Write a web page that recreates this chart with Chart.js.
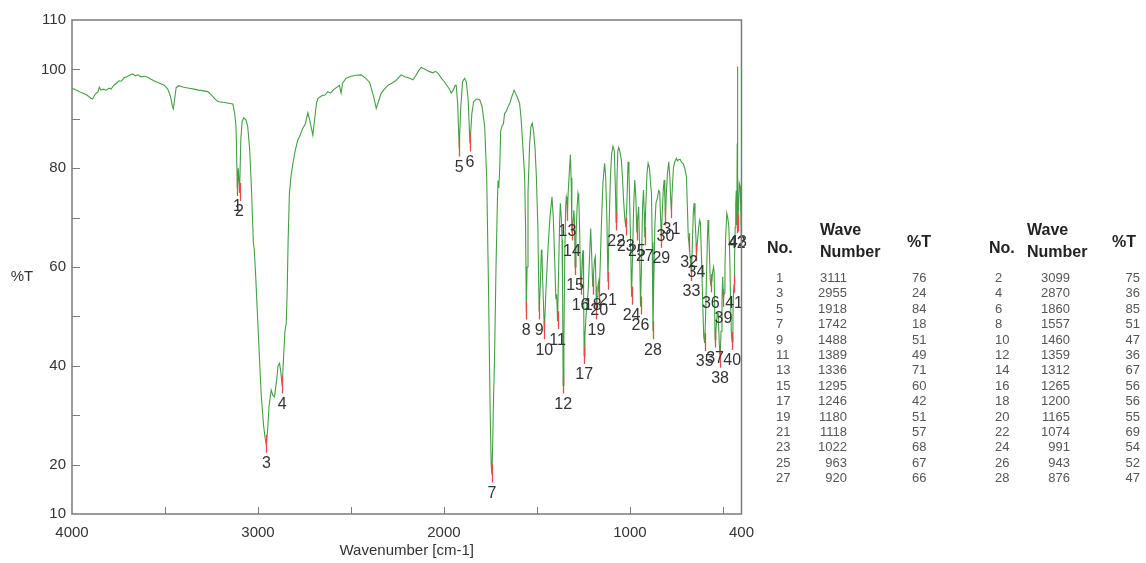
<!DOCTYPE html>
<html>
<head>
<meta charset="utf-8">
<script src="https://cdn.jsdelivr.net/npm/chart.js@4.4.1/dist/chart.umd.min.js"></script>
<style>
  html, body { margin: 0; padding: 0; background: #fff; }
  body { width: 1146px; height: 563px; position: relative; overflow: hidden; font-family: 'Liberation Sans', Arial, sans-serif; }
  #chartWrap { position: absolute; left: 0; top: 0; width: 764px; height: 563px; }
  #peakTable { position: absolute; left: 0; top: 0; width: 1146px; height: 563px; pointer-events: none; }
  .cell { position: absolute; white-space: nowrap; line-height: 1; }
  .hdr { font-weight: bold; font-size: 16px; color: #222; }
  .row { font-size: 13px; color: #555; }
</style>
</head>
<body>
<div id="chartWrap"><canvas id="irChart" width="764" height="563"></canvas></div>
<div id="peakTable"></div>
<script>
// spectrum (wavenumber cm-1 / %T)
const specW = [
  4000, 3975, 3950, 3920, 3900, 3889, 3875, 3860, 3853, 3845, 3830, 3815, 3800, 3790, 3775, 3760,
  3747, 3735, 3720, 3705, 3690, 3673, 3660, 3645, 3630, 3610, 3593, 3575, 3555, 3535, 3505, 3485,
  3470, 3460, 3455, 3448, 3440, 3425, 3400, 3370, 3342, 3320, 3300, 3270, 3250, 3230, 3216, 3180,
  3150, 3135, 3125, 3118, 3111, 3106, 3099, 3092, 3085, 3076, 3065, 3055, 3045, 3035, 3025, 3020,
  3012, 3000, 2990, 2983, 2970, 2962, 2955, 2948, 2940, 2929, 2920, 2911, 2900, 2892, 2884, 2878,
  2870, 2862, 2855, 2848, 2843, 2838, 2831, 2822, 2812, 2800, 2786, 2775, 2760, 2745, 2732, 2720,
  2705, 2695, 2685, 2678, 2660, 2640, 2624, 2610, 2590, 2575, 2562, 2553, 2545, 2526, 2500, 2470,
  2445, 2420, 2400, 2391, 2378, 2364, 2352, 2337, 2320, 2300, 2280, 2260, 2240, 2230, 2210, 2190,
  2167, 2150, 2135, 2122, 2100, 2080, 2060, 2045, 2032, 2015, 2000, 1985, 1970, 1961, 1950, 1940,
  1934, 1926, 1918, 1910, 1900, 1889, 1880, 1870, 1860, 1850, 1840, 1825, 1808, 1795, 1781, 1770,
  1760, 1752, 1746, 1742, 1738, 1733, 1728, 1720, 1712, 1709, 1705, 1700, 1695, 1688, 1680, 1674,
  1665, 1655, 1645, 1635, 1623, 1615, 1605, 1593, 1585, 1575, 1566, 1561, 1557, 1553, 1548, 1539,
  1532, 1525, 1518, 1510, 1503, 1495, 1488, 1482, 1476, 1473, 1468, 1460, 1452, 1440, 1430, 1419,
  1412, 1405, 1398, 1394, 1389, 1383, 1378, 1374, 1369, 1365, 1362, 1359, 1355, 1350, 1345, 1342,
  1339, 1336, 1332, 1326, 1320, 1316, 1312, 1306, 1301, 1297, 1295, 1290, 1284, 1279, 1275, 1270,
  1265, 1260, 1256, 1252, 1249, 1246, 1242, 1236, 1230, 1225, 1218, 1211, 1206, 1200, 1195, 1190,
  1186, 1182, 1180, 1176, 1172, 1168, 1165, 1160, 1152, 1145, 1136, 1130, 1124, 1118, 1112, 1105,
  1098, 1091, 1084, 1078, 1074, 1070, 1065, 1060, 1053, 1046, 1040, 1033, 1028, 1022, 1016, 1010,
  1005, 998, 991, 986, 980, 974, 968, 963, 958, 953, 948, 943, 938, 932, 927, 923,
  920, 915, 908, 902, 895, 889, 884, 880, 876, 872, 866, 860, 852, 845, 840, 835,
  831, 826, 820, 816, 812, 809, 804, 798, 791, 785, 781, 777, 772, 766, 759, 750,
  745, 738, 730, 722, 714, 705, 700, 696, 690, 686, 682, 676, 672, 669, 664, 659,
  655, 650, 645, 642, 637, 630, 625, 621, 615, 608, 603, 598, 593, 587, 583, 580,
  576, 571, 568, 565, 560, 555, 550, 547, 542, 538, 534, 530, 525, 520, 515, 510,
  505, 501, 497, 493, 489, 485, 479, 474, 468, 463, 458, 454, 450, 446, 443, 440,
  437, 434, 431, 428, 425, 423, 422, 421, 419, 416, 412, 407, 403, 400
];
const specT = [
  96.2, 95.8, 95.3, 94.8, 94.2, 94.0, 95.0, 95.5, 96.4, 95.8, 96.0, 95.8, 96.2, 96.0, 96.8, 97.2,
  97.7, 97.6, 98.3, 98.5, 98.8, 99.1, 98.7, 98.9, 98.5, 98.6, 98.4, 98.0, 97.6, 97.3, 96.8, 96.0,
  94.5, 92.5, 92.0, 94.0, 96.3, 96.7, 96.4, 96.2, 96.0, 95.8, 95.7, 95.5, 94.8, 94.0, 93.5, 93.3,
  93.1, 93.0, 91.0, 88.4, 76.0, 80.0, 75.0, 86.0, 89.5, 90.2, 89.8, 88.4, 84.0, 76.0, 65.0, 63.5,
  58.0, 48.0, 40.0, 34.4, 28.0, 25.5, 24.0, 27.0, 32.0, 35.1, 34.0, 33.7, 37.0, 40.0, 40.5, 39.0,
  36.0, 42.0, 47.0, 48.6, 55.0, 65.0, 74.9, 78.5, 81.0, 83.5, 85.7, 86.5, 88.0, 89.0, 91.2, 89.5,
  86.7, 90.0, 93.2, 94.1, 94.6, 94.8, 95.5, 95.2, 96.0, 96.4, 96.8, 95.2, 97.2, 98.2, 98.6, 98.8,
  98.9, 98.2, 97.4, 96.2, 94.5, 92.1, 93.5, 95.2, 96.0, 96.8, 97.2, 97.7, 98.5, 98.9, 98.5, 98.3,
  97.9, 98.8, 99.8, 100.4, 100.0, 99.6, 99.3, 99.6, 99.2, 98.3, 97.6, 96.8, 96.0, 95.2, 95.8, 96.8,
  96.8, 93.0, 84.0, 92.0, 97.5, 98.2, 97.5, 94.0, 85.0, 91.0, 93.5, 94.0, 93.9, 92.5, 88.4, 78.0,
  55.0, 32.0, 20.0, 18.0, 24.0, 34.0, 41.2, 60.0, 74.0, 77.5, 76.0, 80.0, 87.4, 88.5, 89.0, 91.1,
  91.5, 92.5, 93.2, 94.5, 95.8, 95.2, 94.3, 93.1, 90.0, 84.0, 78.3, 68.0, 51.0, 60.0, 75.0, 85.0,
  88.5, 89.1, 87.5, 84.0, 78.3, 68.0, 51.0, 56.0, 63.5, 62.8, 56.0, 47.0, 55.0, 64.0, 70.0, 74.2,
  70.0, 62.0, 53.5, 54.5, 49.0, 60.0, 69.0, 72.9, 70.0, 65.5, 55.0, 36.0, 45.0, 63.0, 72.5, 74.2,
  73.5, 71.0, 75.0, 79.0, 82.7, 78.0, 67.0, 69.0, 71.5, 68.0, 60.0, 66.0, 72.0, 74.9, 74.0, 67.0,
  56.0, 58.0, 62.0, 63.4, 55.0, 42.0, 46.0, 50.0, 53.0, 54.7, 61.0, 67.8, 63.0, 56.0, 59.0, 61.5,
  62.1, 56.0, 51.0, 54.0, 56.0, 57.0, 55.0, 60.0, 70.0, 77.0, 81.0, 78.0, 70.0, 57.0, 68.0, 78.0,
  83.0, 84.4, 83.5, 76.0, 69.0, 77.0, 83.5, 84.2, 83.2, 81.7, 78.0, 72.9, 70.0, 68.0, 73.0, 81.3,
  79.0, 68.0, 54.0, 62.0, 72.0, 77.6, 74.0, 67.0, 70.0, 72.2, 64.0, 52.0, 60.0, 72.0, 75.6, 71.0,
  66.0, 72.0, 79.0, 81.0, 80.0, 77.0, 74.9, 65.0, 47.0, 56.0, 68.0, 72.9, 74.0, 75.5, 75.2, 70.0,
  65.5, 71.0, 76.0, 77.6, 74.0, 70.0, 75.0, 79.0, 81.3, 78.0, 74.0, 71.5, 76.0, 80.0, 81.3, 82.0,
  81.5, 81.7, 81.8, 81.2, 81.0, 80.0, 79.0, 78.3, 71.0, 66.0, 64.8, 62.0, 60.0, 58.8, 65.0, 71.0,
  72.9, 70.0, 66.0, 62.8, 65.0, 68.0, 69.5, 69.0, 62.0, 52.0, 46.0, 44.6, 50.0, 60.0, 66.0, 69.5,
  67.0, 61.0, 57.5, 56.5, 57.0, 59.0, 60.0, 59.0, 45.3, 47.0, 49.0, 50.6, 50.6, 45.0, 41.2, 47.0,
  53.0, 58.0, 53.5, 54.7, 60.0, 66.0, 70.9, 70.0, 68.2, 62.0, 52.0, 46.0, 44.8, 50.0, 55.0, 56.4,
  62.0, 68.0, 72.9, 75.5, 68.5, 85.0, 100.6, 88.0, 68.8, 72.0, 77.0, 76.3, 70.0, 64.0
];

// picked peaks (1-28 from the table, 29-43)
const peakNo = [
  1, 2, 3, 4, 5, 6, 7, 8, 9, 10, 11, 12, 13, 14, 15, 16, 17, 18, 19, 20, 21, 22,
  23, 24, 25, 26, 27, 28, 29, 30, 31, 32, 33, 34, 35, 36, 37, 38, 39, 40, 41, 42, 43
];
const peakWave = [
  3111, 3099, 2955, 2870, 1918, 1860, 1742, 1557, 1488, 1460, 1389, 1359, 1336, 1312, 1295, 1265,
  1246, 1200, 1180, 1165, 1118, 1074, 1022, 991, 963, 943, 920, 876,
  831, 809, 777, 682, 669, 642, 598, 565, 542, 515, 497, 450, 440, 425, 419
];
const peakT = [
  76, 75, 24, 36, 84, 85, 18, 51, 51, 47, 49, 36, 71, 67, 60, 56,
  42, 56, 51, 55, 57, 69, 68, 54, 67, 52, 66, 47,
  65.5, 70, 71.5, 64.8, 58.8, 62.8, 44.6, 56.5, 45.3, 41.2, 53.5, 44.8, 56.4, 68.5, 68.8
];
const tableCount = 28;

const xTicks = [4000, 3500, 3000, 2500, 2000, 1500, 1000, 500, 400];
const xTickLabels = [4000, 3000, 2000, 1000, 400];
const yTicks = [10, 20, 30, 40, 50, 60, 70, 80, 90, 100, 110];
const yTickLabels = [10, 20, 40, 60, 80, 100, 110];

const FONT = "'Liberation Sans', Arial, sans-serif";

const frameAndPeaks = {
  id: 'frameAndPeaks',
  afterDatasetsDraw(chart) {
    const { ctx, scales: { x, y } } = chart;
    ctx.save();
    // peak markers
    ctx.strokeStyle = '#e84a4a';
    ctx.lineWidth = 1.3;
    ctx.beginPath();
    peakWave.forEach((w, i) => {
      const px = Math.round(x.getPixelForValue(w)) + 0.5;
      const py = y.getPixelForValue(peakT[i]);
      ctx.moveTo(px, py - 10);
      ctx.lineTo(px, py + 8);
    });
    ctx.stroke();
    ctx.fillStyle = '#333';
    ctx.font = '16px ' + FONT;
    ctx.textAlign = 'center';
    ctx.textBaseline = 'middle';
    peakWave.forEach((w, i) => {
      ctx.fillText(String(peakNo[i]), x.getPixelForValue(w), y.getPixelForValue(peakT[i]) + 19);
    });
    ctx.restore();
  },
  afterDraw(chart) {
    const { ctx, chartArea: a, scales: { x, y } } = chart;
    ctx.save();
    ctx.strokeStyle = '#7a7a7a';
    ctx.lineWidth = 1.5;
    ctx.strokeRect(a.left, a.top, a.right - a.left, a.bottom - a.top);
    ctx.lineWidth = 1;
    ctx.beginPath();
    xTicks.forEach((v) => {
      if (v === 4000 || v === 400) return;
      const px = Math.round(x.getPixelForValue(v)) + 0.5;
      ctx.moveTo(px, a.bottom);
      ctx.lineTo(px, a.bottom - 7);
    });
    yTicks.forEach((v) => {
      if (v === 10 || v === 110) return;
      const py = Math.round(y.getPixelForValue(v)) + 0.5;
      ctx.moveTo(a.left, py);
      ctx.lineTo(a.left + 8, py);
    });
    ctx.stroke();
    ctx.fillStyle = '#333';
    ctx.font = '15px ' + FONT;
    ctx.textAlign = 'center';
    ctx.textBaseline = 'middle';
    ctx.fillText('%T', 22, 277);
    ctx.restore();
  }
};

function initChart() {
  const canvas = document.getElementById('irChart');
  new Chart(canvas.getContext('2d'), {
    type: 'line',
    data: {
      datasets: [{
        data: specW.map((w, i) => ({ x: w, y: specT[i] })),
        borderColor: '#449f44',
        borderWidth: 1.1,
        pointRadius: 0,
        tension: 0,
        fill: false
      }]
    },
    options: {
      responsive: false,
      animation: false,
      layout: { padding: { top: 20, right: 15, bottom: 0, left: 0 } },
      plugins: { legend: { display: false }, tooltip: { enabled: false } },
      scales: {
        x: {
          type: 'linear',
          reverse: true,
          min: 400,
          max: 4000,
          afterBuildTicks: (s) => { s.ticks = xTicks.map((v) => ({ value: v })); },
          afterFit: (s) => { s.height = 49; },
          grid: { display: false, drawTicks: false },
          border: { display: false },
          ticks: {
            autoSkip: false,
            maxRotation: 0,
            padding: 10,
            color: '#333',
            font: { family: FONT, size: 15 },
            callback: (v) => (xTickLabels.includes(v) ? String(v) : '')
          },
          title: {
            display: true,
            text: 'Wavenumber [cm-1]',
            color: '#333',
            font: { family: FONT, size: 15 },
            padding: { top: 0, bottom: 3 }
          }
        },
        y: {
          min: 10,
          max: 110,
          afterBuildTicks: (s) => { s.ticks = yTicks.map((v) => ({ value: v })); },
          afterFit: (s) => { s.width = 72; },
          grid: { display: false, drawTicks: false },
          border: { display: false },
          ticks: {
            padding: 6,
            color: '#333',
            font: { family: FONT, size: 15 },
            callback: (v) => (yTickLabels.includes(v) ? String(v) : '')
          }
        }
      }
    },
    plugins: [frameAndPeaks]
  });
}

function buildPeakTable() {
  const box = document.getElementById('peakTable');
  const add = (text, left, top, cls, right) => {
    const el = document.createElement('div');
    el.className = 'cell ' + cls;
    el.textContent = text;
    el.style.left = left + 'px';
    el.style.top = top + 'px';
    el.style.transform = right ? 'translate(-100%, -50%)' : 'translateY(-50%)';
    box.appendChild(el);
  };

  add('No.', 767, 248, 'hdr');
  add('Wave', 820, 230, 'hdr');
  add('Number', 820, 252, 'hdr');
  add('%T', 907, 242, 'hdr');
  add('No.', 989, 248, 'hdr');
  add('Wave', 1027, 230, 'hdr');
  add('Number', 1027, 252, 'hdr');
  add('%T', 1112, 242, 'hdr');

  const rowTop = 277;
  const rowStep = 15.4;
  for (let i = 0; i < tableCount; i++) {
    const r = Math.floor(i / 2);
    const top = rowTop + r * rowStep;
    if (i % 2 === 0) {
      add(String(peakNo[i]), 776, top, 'row');
      add(String(peakWave[i]), 847, top, 'row', true);
      add(String(peakT[i]), 912, top, 'row');
    } else {
      add(String(peakNo[i]), 995, top, 'row');
      add(String(peakWave[i]), 1070, top, 'row', true);
      add(String(peakT[i]), 1140, top, 'row', true);
    }
  }
}

document.addEventListener('DOMContentLoaded', () => {
  initChart();
  buildPeakTable();
});
</script>
</body>
</html>
